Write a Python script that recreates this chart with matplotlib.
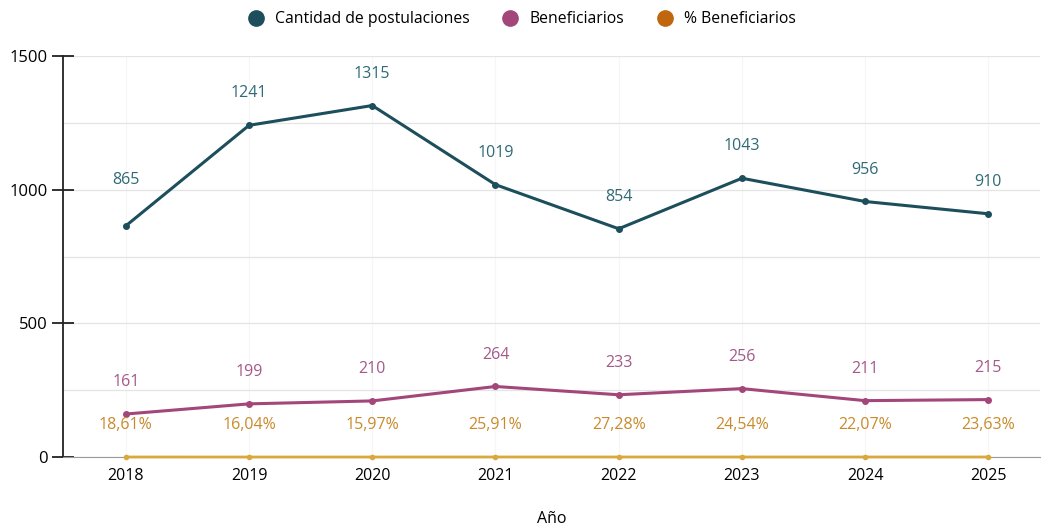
import numpy as np
import matplotlib.pyplot as plt
from matplotlib.ticker import MultipleLocator

plt.rcParams['font.family'] = ['Open Sans', 'DejaVu Sans']

years = ['2018', '2019', '2020', '2021', '2022', '2023', '2024', '2025']
postulaciones = [865, 1241, 1315, 1019, 854, 1043, 956, 910]
beneficiarios = [161, 199, 210, 264, 233, 256, 211, 215]
pct_beneficiarios = [18.61, 16.04, 15.97, 25.91, 27.28, 24.54, 22.07, 23.63]

c_post, c_post_txt = '#1c4e5b', '#2f6a76'
c_ben, c_ben_txt = '#a3467a', '#a4588a'
c_pct, c_pct_txt, c_pct_line = '#c0660f', '#c98a2c', '#d9a93e'

fig = plt.figure(figsize=(10.45, 5.29), dpi=100)
ax = fig.add_axes([0.0603, 0.136, 0.935, 0.758])
x = np.arange(len(years))

# faint vertical guides at each year
for xi in x:
    ax.axvline(xi, color='#f6f6f6', lw=0.8, zorder=0)

ax.plot(x, postulaciones, color=c_post, lw=2.2, marker='o', ms=4, zorder=3,
        label='Cantidad de postulaciones')
ax.plot(x, beneficiarios, color=c_ben, lw=2.2, marker='o', ms=4, zorder=3,
        label='Beneficiarios')
# % values are tiny on this scale, so the line sits on zero
ax.plot(x, np.array(pct_beneficiarios) / 100, color=c_pct_line, lw=2, marker='o',
        ms=3, zorder=3, label='% Beneficiarios', clip_on=False)

for i, v in enumerate(postulaciones):
    dy = 33 if i == 0 else 23
    ax.annotate(str(v), (x[i], v), xytext=(0, dy), textcoords='offset points',
                ha='center', va='center', fontsize=11.5, color=c_post_txt)
for i, v in enumerate(beneficiarios):
    ax.annotate(str(v), (x[i], v), xytext=(0, 23), textcoords='offset points',
                ha='center', va='center', fontsize=11.5, color=c_ben_txt)
for i, v in enumerate(pct_beneficiarios):
    txt = f'{v:.2f}%'.replace('.', ',')
    ax.annotate(txt, (x[i], v / 100), xytext=(0, 23), textcoords='offset points',
                ha='center', va='center', fontsize=11.5, color=c_pct_txt)

ax.set_xlim(-0.51, 7.42)
ax.set_ylim(0, 1500)
ax.set_xticks(x)
ax.set_xticklabels(years)
ax.yaxis.set_major_locator(MultipleLocator(500))
ax.yaxis.set_minor_locator(MultipleLocator(250))
ax.grid(axis='y', which='both', color='#e4e4e4', lw=0.9, zorder=0)

for s in ['top', 'right']:
    ax.spines[s].set_visible(False)
ax.spines['left'].set_color('#222222')
ax.spines['left'].set_linewidth(1.3)
ax.spines['bottom'].set_color('#9a9a9a')
ax.tick_params(axis='y', which='major', direction='inout', length=16, width=1.3,
               color='#222222', labelsize=12, pad=3)
ax.tick_params(axis='y', which='minor', length=0)
ax.tick_params(axis='x', length=0, labelsize=11.5, pad=8)
ax.set_xlabel('Año', fontsize=11.5, labelpad=19)

leg = fig.legend(loc='upper center', bbox_to_anchor=(0.5, 1.005), ncol=3, frameon=False,
                 fontsize=11.3, handlelength=0.8, handletextpad=0.8, columnspacing=2.2)
for h, c in zip(leg.legend_handles, [c_post, c_ben, c_pct]):
    h.set_linestyle('none')
    h.set_marker('o')
    h.set_markersize(11)
    h.set_color(c)

fig.savefig('out.png', dpi=100)
